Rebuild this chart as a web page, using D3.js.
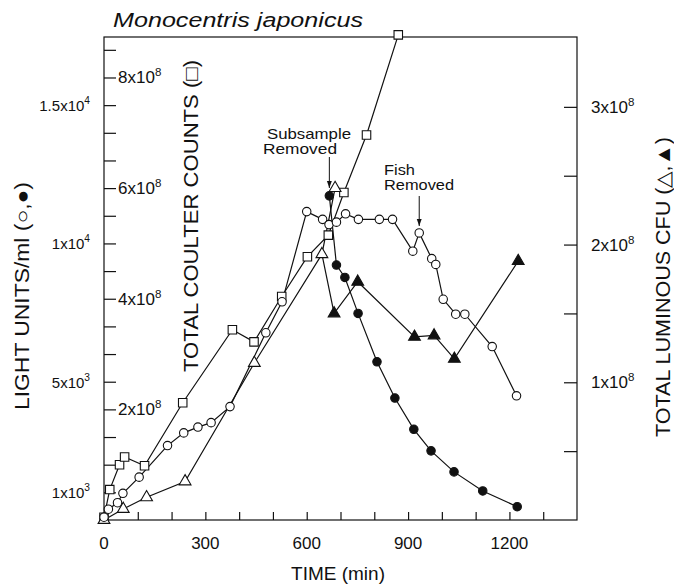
<!DOCTYPE html>
<html>
<head>
<meta charset="utf-8">
<script src="https://cdn.jsdelivr.net/npm/d3@7"></script>
<style>
  body { margin: 0; background: #fff; }
  svg { display: block; font-family: "Liberation Sans", Arial, sans-serif; }
</style>
</head>
<body>
<svg id="chart" width="674" height="584"></svg>
<script>
// open circles: light units/ml
const openCircleTime = [0, 13, 40, 56, 104, 188, 236, 278, 317, 373, 479, 527, 600, 647, 666, 688, 715, 753, 815, 854, 914, 933, 970, 982, 1004, 1041, 1068, 1149, 1221];
const openCircleLight = [100, 390, 625, 965, 1550, 2690, 3150, 3360, 3520, 4100, 6770, 7890, 11150, 10870, 10680, 10770, 11070, 10870, 10870, 10870, 9720, 10380, 9450, 9240, 7980, 7440, 7440, 6270, 4490];

// filled circles: light units/ml after subsample removed
const filledCircleTime = [667, 688, 713, 752, 808, 861, 917, 968, 1036, 1121, 1223];
const filledCircleLight = [11720, 9220, 8770, 7470, 5720, 4410, 3280, 2500, 1740, 1050, 480];

// squares: total coulter counts (x10^8)
const squareTime = [0, 17, 46, 61, 120, 233, 380, 444, 526, 602, 664, 710, 777, 871];
const squareCoulter = [0.05, 0.55, 1.0, 1.14, 0.98, 2.12, 3.44, 3.22, 4.04, 4.76, 5.15, 5.92, 6.96, 8.77];

// open triangles: total luminous CFU (x10^8)
const openTriTime = [0, 57, 126, 240, 445, 645, 684];
const openTriCFU = [0.0, 0.08, 0.165, 0.28, 1.14, 1.93, 2.41];

// filled triangles: total luminous CFU (x10^8)
const filledTriTime = [681, 751, 919, 977, 1037, 1226];
const filledTriCFU = [1.5, 1.73, 1.33, 1.34, 1.17, 1.88];

// tick labels
const timeTicks = [0, 300, 600, 900, 1200];
const lightTicks = [1000, 5000, 10000, 15000];
const lightTickText = [["1x10", "3"], ["5x10", "3"], ["1x10", "4"], ["1.5x10", "4"]];
const coulterTicks = [2, 4, 6, 8];
const coulterTickText = [["2x10", "8"], ["4x10", "8"], ["6x10", "8"], ["8x10", "8"]];
const cfuTicks = [1, 2, 3];
const cfuTickText = [["1x10", "8"], ["2x10", "8"], ["3x10", "8"]];

const svg = d3.select("#chart");
const ink = "#111";

const x = d3.scaleLinear().domain([0, 1400]).range([104, 577]);
const yLight = d3.scaleLinear().domain([0, 17500]).range([520, 36]);
const yCoulter = d3.scaleLinear().domain([0, 8.75]).range([520, 36]);
const yCFU = d3.scaleLinear().domain([0, 3.5]).range([520, 38]);

svg.append("rect").attr("width", 674).attr("height", 584).attr("fill", "#fff");

// frame
svg.append("rect")
  .attr("x", x(0)).attr("y", 37)
  .attr("width", x(1400) - x(0)).attr("height", 520 - 37)
  .attr("fill", "none").attr("stroke", ink).attr("stroke-width", 1.2);

// tick marks (inward)
const styleAxis = (g) => {
  g.select(".domain").remove();
  g.selectAll(".tick line").attr("stroke", ink).attr("stroke-width", 1.2);
  g.selectAll(".tick text").remove();
};
svg.append("g").attr("transform", `translate(${x(0)},0)`)
  .call(d3.axisRight(yLight).tickValues(d3.range(1000, 17001, 1000)).tickSize(12))
  .call(styleAxis);
svg.append("g").attr("transform", `translate(${x(1400)},0)`)
  .call(d3.axisLeft(yCFU).tickValues(d3.range(0.5, 3.01, 0.5)).tickSize(13))
  .call(styleAxis);
svg.append("g").attr("transform", "translate(0,520)")
  .call(d3.axisTop(x).tickValues(d3.range(100, 1301, 100)).tickSize(8))
  .call(styleAxis);

// label with superscript exponent
function supLabel(g, px, py, parts, anchor, size) {
  const t = g.append("text")
    .attr("x", px).attr("y", py)
    .attr("text-anchor", anchor)
    .attr("font-size", size)
    .attr("fill", ink);
  t.append("tspan").text(parts[0]);
  t.append("tspan").attr("dy", -7).attr("font-size", size * 0.68).text(parts[1]);
  return t;
}

lightTicks.forEach((v, i) => supLabel(svg, 90, yLight(v) + 6, lightTickText[i], "end", 15));
coulterTicks.forEach((v, i) => supLabel(svg, 118, yCoulter(v) + 6, coulterTickText[i], "start", 17));
cfuTicks.forEach((v, i) => supLabel(svg, 591, yCFU(v) + 6, cfuTickText[i], "start", 17));

svg.selectAll(".xlab")
  .data(timeTicks)
  .enter()
  .append("text")
  .attr("class", "xlab")
  .attr("x", (d) => x(d))
  .attr("y", 549)
  .attr("text-anchor", "middle")
  .attr("font-size", 17)
  .attr("fill", ink)
  .text((d) => d);

// axis titles
svg.append("text")
  .attr("x", 338).attr("y", 580)
  .attr("text-anchor", "middle")
  .attr("font-size", 19).attr("fill", ink)
  .text("TIME (min)");

svg.append("text")
  .attr("transform", "translate(29,296) rotate(-90)")
  .attr("text-anchor", "middle")
  .attr("font-size", 20).attr("fill", ink)
  .attr("textLength", 228).attr("lengthAdjust", "spacingAndGlyphs")
  .text("LIGHT UNITS/ml (○,●)");

svg.append("text")
  .attr("transform", "translate(198,216) rotate(-90)")
  .attr("text-anchor", "middle")
  .attr("font-size", 20).attr("fill", ink)
  .attr("textLength", 312).attr("lengthAdjust", "spacingAndGlyphs")
  .text("TOTAL COULTER COUNTS (□)");

svg.append("text")
  .attr("transform", "translate(670,287) rotate(-90)")
  .attr("text-anchor", "middle")
  .attr("font-size", 20).attr("fill", ink)
  .attr("textLength", 300).attr("lengthAdjust", "spacingAndGlyphs")
  .text("TOTAL LUMINOUS CFU (△,▲)");

// title
svg.append("text")
  .attr("x", 113).attr("y", 27)
  .attr("font-size", 20).attr("font-style", "italic").attr("fill", ink)
  .attr("textLength", 250).attr("lengthAdjust", "spacingAndGlyphs")
  .text("Monocentris japonicus");

// annotations
svg.append("defs").append("marker")
  .attr("id", "arrow").attr("viewBox", "0 0 10 10")
  .attr("refX", 10).attr("refY", 5)
  .attr("markerWidth", 7).attr("markerHeight", 7)
  .attr("orient", "auto")
  .append("path").attr("d", "M0,1.5L10,5L0,8.5z").attr("fill", ink);

function note(lines, px, y0, anchor, ax, ay0, ay1) {
  lines.forEach((l, i) => {
    svg.append("text")
      .attr("x", l.dx + px).attr("y", y0 + i * 15)
      .attr("text-anchor", anchor)
      .attr("font-size", 14.5).attr("fill", ink)
      .attr("textLength", l.w).attr("lengthAdjust", "spacingAndGlyphs")
      .text(l.s);
  });
  svg.append("line")
    .attr("x1", ax).attr("x2", ax).attr("y1", ay0).attr("y2", ay1)
    .attr("stroke", ink).attr("stroke-width", 1)
    .attr("marker-end", "url(#arrow)");
}
note([{ s: "Subsample", w: 84, dx: 4 }, { s: "Removed", w: 74, dx: 0 }], 263, 139, "start", x(667), 157, 188);
note([{ s: "Fish", w: 31, dx: 0 }, { s: "Removed", w: 70, dx: 0 }], 384, 175, "start", x(933), 196, 226);

// series
const pts = (ts, vs) => ts.map((t, i) => [t, vs[i]]);
const openCircles = pts(openCircleTime, openCircleLight);
const filledCircles = pts(filledCircleTime, filledCircleLight);
const squares = pts(squareTime, squareCoulter);
const openTris = pts(openTriTime, openTriCFU);
const filledTris = pts(filledTriTime, filledTriCFU);

const plot = svg.append("g");
function drawLine(data, y) {
  plot.append("path")
    .datum(data)
    .attr("fill", "none")
    .attr("stroke", ink)
    .attr("stroke-width", 1.2)
    .attr("d", d3.line().x((d) => x(d[0])).y((d) => y(d[1])));
}
drawLine(squares, yCoulter);
drawLine(openCircles, yLight);
drawLine(filledCircles, yLight);
drawLine(openTris, yCFU);
// filled triangles branch off the open triangle at 645 min
drawLine([openTris[5], ...filledTris], yCFU);

function drawMarks(data, y, type, size, filled) {
  plot.append("g")
    .selectAll("path")
    .data(data)
    .enter()
    .append("path")
    .attr("transform", (d) => `translate(${x(d[0])},${y(d[1])})`)
    .attr("d", d3.symbol().type(type).size(size))
    .attr("fill", filled ? ink : "#fff")
    .attr("stroke", ink)
    .attr("stroke-width", 1.1);
}
drawMarks(squares, yCoulter, d3.symbolSquare, 72, false);
drawMarks(openTris, yCFU, d3.symbolTriangle, 60, false);
drawMarks(openCircles, yLight, d3.symbolCircle, 56, false);
drawMarks(filledTris, yCFU, d3.symbolTriangle, 60, true);
drawMarks(filledCircles, yLight, d3.symbolCircle, 56, true);
</script>
</body>
</html>
